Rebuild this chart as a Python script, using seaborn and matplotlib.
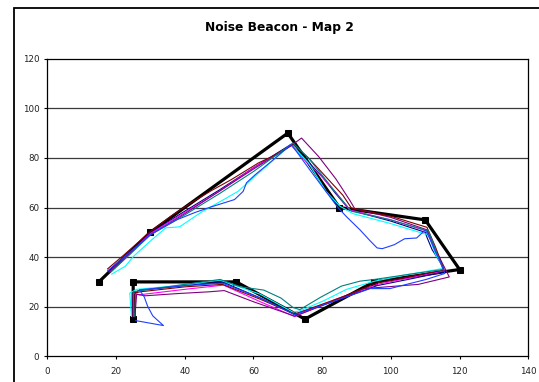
import matplotlib
matplotlib.use("Agg")
import matplotlib.pyplot as plt
from matplotlib.patches import Rectangle
import seaborn as sns
import pandas as pd

sns.set_theme(style="white")
plt.rcParams['font.family'] = ['DejaVu Sans']

# ---- data ----
beacon_x = [15, 30, 70, 85, 110, 120, 95, 75, 55, 25, 25]
beacon_y = [30, 50, 90, 60, 55, 35, 30, 15, 30, 30, 15]

darkred_x = [17.5, 22, 30, 36, 42, 48, 53.5, 61.5, 65.5, 71.5, 76, 80, 86, 88.5, 100, 110.5, 113, 115.5, 105, 96, 85, 72, 62, 51, 40, 27, 25.5, 25.5]
darkred_y = [35.2, 40.5, 50.3, 56.5, 62, 67, 71.2, 78, 80.6, 85.5, 80, 74, 65, 59.8, 56.5, 52, 44, 34.8, 32, 29.5, 23.5, 17, 23, 29, 28, 26, 25.5, 16]

purple_x = [18, 24, 30, 40, 50, 60, 70, 74, 79, 84, 88, 89.5, 100, 110.5, 113, 117, 108, 96, 92, 82, 72, 60, 51.5, 47, 38, 28.5, 26, 25.5]
purple_y = [34, 41.5, 49, 57.5, 66.5, 75.5, 84, 88, 80.5, 71.5, 63, 59.5, 56, 51, 43, 32, 29, 27.7, 27.3, 21.5, 16.2, 22, 26.5, 26, 25.3, 24.4, 25, 16]

blue_x = [17.5, 24, 30, 37.8, 43, 47.6, 54.5, 57, 58, 60.5, 66, 71, 73, 76.5, 80, 84.6, 87, 91, 94, 96, 97.5, 101, 104, 107.5, 109.5, 110, 111.5, 113, 114.5, 115.7, 110.3, 99.7, 94, 83, 72, 62, 51, 40, 26.8, 28.2, 29.2, 30.7, 33.8, 25.7]
blue_y = [34.4, 42, 49, 55.1, 58, 60.2, 63.2, 66.5, 70, 73.2, 79.5, 85.5, 81.7, 75, 68.5, 60, 56.4, 51, 46.5, 43.7, 43.4, 45, 47.4, 47.7, 50.3, 51, 47, 42, 38, 33.4, 31, 27.3, 27.3, 22, 16.8, 23.5, 29.5, 28.5, 26.8, 24, 20.2, 16.3, 12.4, 14.4]

cyan_x = [18.7, 22.7, 25.1, 30, 34.5, 38.5, 44.7, 51.6, 55.5, 62, 71, 76, 81.2, 85.1, 89, 100, 109.5, 111, 113, 115.5, 105, 95.3, 87.1, 80.3, 73.5, 71.5, 62, 50.3, 38, 26, 24, 24.5]
cyan_y = [33.1, 36.3, 40.3, 46.5, 51.8, 52.2, 58, 63.4, 66.5, 74.5, 85.5, 78, 66.4, 60.6, 57.5, 53.5, 49.5, 49, 41, 35.5, 33, 30.3, 27, 22.3, 18.3, 17.8, 25, 30.7, 28.5, 27, 25.5, 16]

teal_x = [18.5, 24, 30, 40, 50, 60, 71.5, 76, 80, 84, 88.5, 100, 111, 113, 115.2, 105, 95.3, 91, 85.6, 79.4, 73.5, 71.5, 68, 63, 56.3, 50.3, 40, 27, 25, 25.3]
teal_y = [34, 41, 49, 57, 65.5, 74.5, 86, 80, 73, 66, 58.5, 55, 50.5, 43, 35, 33, 31, 30.3, 28.3, 23.7, 18.8, 19.7, 23.5, 26.7, 28, 31, 29, 26.5, 26, 16]

magenta_x = [18, 24, 30, 40, 50, 60, 71, 75, 79.5, 84, 88, 100, 110.5, 113, 115.5, 105, 96, 84, 72, 62, 51.3, 40, 26.8, 25, 25]
magenta_y = [34, 41.5, 49.5, 58, 66.5, 76, 85, 79, 73, 66, 59, 55, 50.5, 42, 34.5, 31.5, 29, 23, 16, 22, 28.7, 27, 24.8, 25.5, 16]

navy_x = [18, 24, 30, 40, 50, 60, 71, 75.5, 80, 84, 88, 100, 110, 110.5, 112, 115, 115.5, 105, 96, 84, 72, 62, 51, 40, 26.5, 25.5, 25.5]
navy_y = [34.5, 42, 49.8, 58.5, 67, 76, 85.5, 79, 72.5, 65.5, 59, 54.5, 50, 48, 43, 36.5, 34, 31, 28.5, 22.5, 17, 23.5, 30, 28.5, 26.5, 25.5, 15.5]

x_ticks = [0, 20, 40, 60, 80, 100, 120, 140]
y_ticks = [0, 20, 40, 60, 80, 100, 120]
title = "Noise Beacon - Map 2"

traces = [
    (navy_x, navy_y, "#000080"),
    (magenta_x, magenta_y, "#FF00FF"),
    (cyan_x, cyan_y, "#00FFFF"),
    (purple_x, purple_y, "#800080"),
    (darkred_x, darkred_y, "#800000"),
    (teal_x, teal_y, "#008080"),
    (blue_x, blue_y, "#1F3FFF"),
]

fig = plt.figure(figsize=(5.39, 3.82), dpi=100)
fig.patch.set_facecolor("white")
ax = fig.add_axes([47.3 / 539, 1 - 356.3 / 382, (528.3 - 47.3) / 539, (356.3 - 58.7) / 382])

# outer chart border
fig.patches.append(Rectangle((14.3 / 539, -0.1), 1.2, 1 - 8.3 / 382 + 0.1,
                             transform=fig.transFigure, fill=False,
                             edgecolor="#000000", linewidth=1.3))

# gridlines
for v in y_ticks[1:-1]:
    ax.axhline(v, color="#3a3a3a", linewidth=0.9, zorder=0)

df_b = pd.DataFrame({"x": beacon_x, "y": beacon_y})
sns.lineplot(data=df_b, x="x", y="y", sort=False, estimator=None, ax=ax,
             color="black", linewidth=2.3, marker="s", markersize=4.5,
             markeredgecolor="black", markerfacecolor="black", zorder=2)

for tx, ty, col in traces:
    d = pd.DataFrame({"x": tx, "y": ty})
    sns.lineplot(data=d, x="x", y="y", sort=False, estimator=None, ax=ax,
                 color=col, linewidth=0.8, zorder=3)

ax.set_xlim(0, 140)
ax.set_ylim(0, 120)
ax.set_xticks(x_ticks)
ax.set_yticks(y_ticks)
ax.set_xlabel("")
ax.set_ylabel("")
ax.tick_params(axis="both", direction="out", length=2.4, width=0.8,
               color="black", labelsize=6.3, labelcolor="#222222")
ax.tick_params(axis="x", pad=5.5, bottom=True)
ax.tick_params(axis="y", pad=3.3, left=True)
for s in ax.spines.values():
    s.set_color("black")
    s.set_linewidth(0.9)
    s.set_visible(True)
ax.grid(False)

fig.text(279.5 / 539, 1 - 31.5 / 382, title, ha="center", va="baseline",
         fontsize=8.8, fontweight="bold", color="black")

fig.savefig("out.png", dpi=100, facecolor="white")
